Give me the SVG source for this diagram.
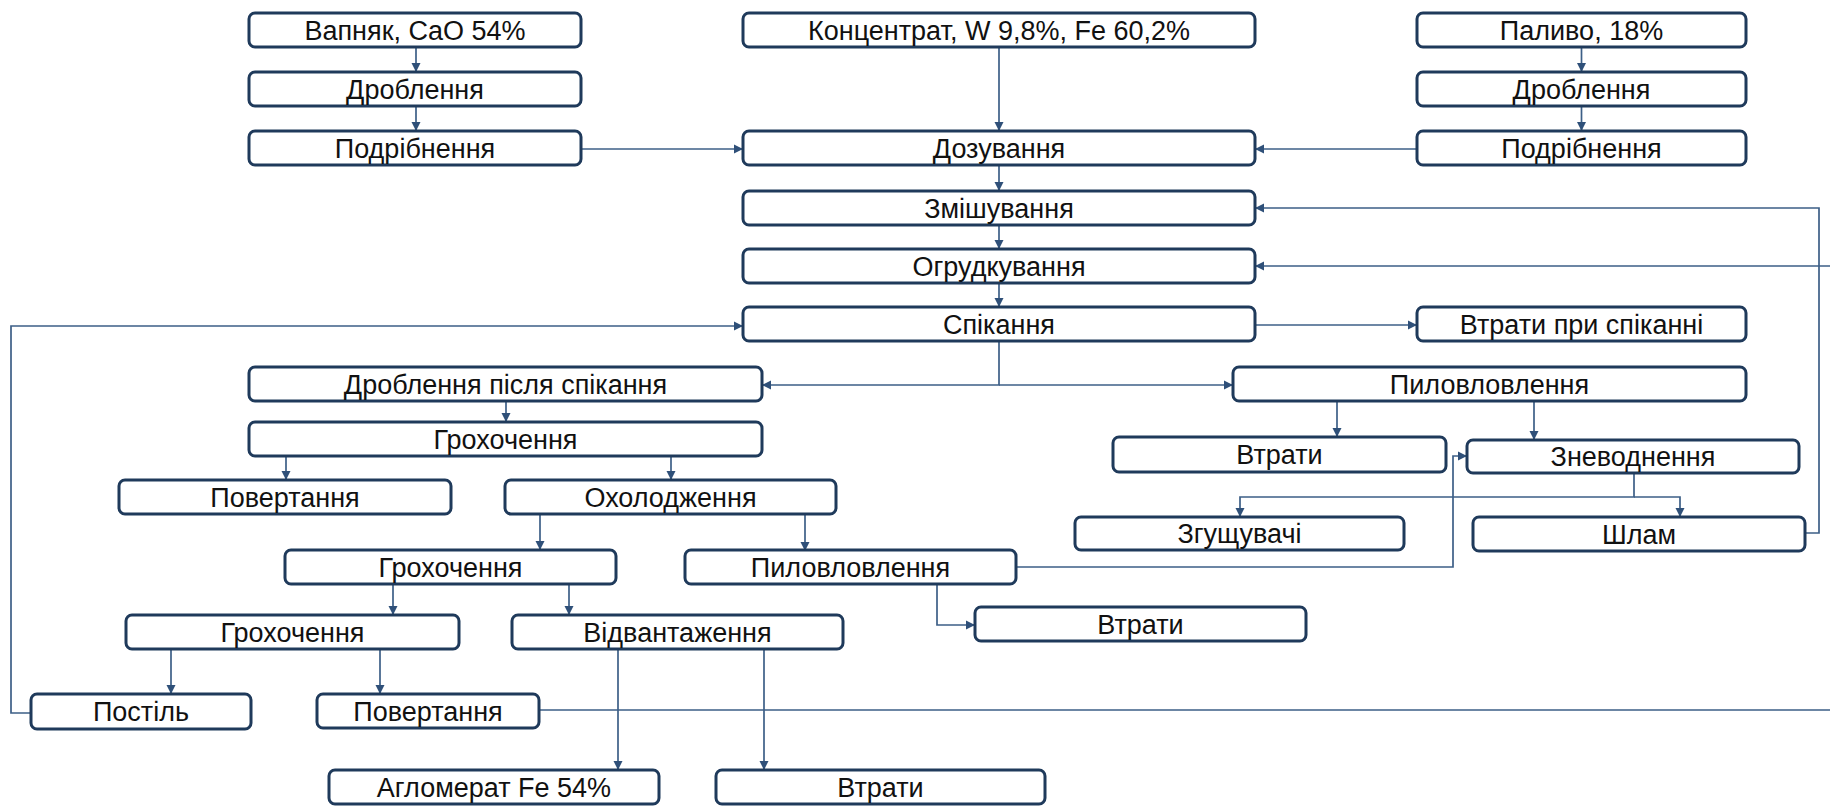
<svg xmlns="http://www.w3.org/2000/svg" width="1830" height="806" viewBox="0 0 1830 806">
<style>
.n rect{fill:#fff;stroke:#1f3a5b;stroke-width:3}
.n text{font-family:"Liberation Sans",Arial,sans-serif;font-size:27px;fill:#111;text-anchor:middle}
.c path{fill:none;stroke:#3d5f87;stroke-width:1.7}
</style>
<defs>
<marker id="ah" markerUnits="userSpaceOnUse" markerWidth="10" markerHeight="10" refX="9" refY="5" orient="auto">
<path d="M0,0.5 L9,5 L0,9.5 z" fill="#2f5079"/>
</marker>
</defs>
<rect width="1830" height="806" fill="#fff"/>
<g id="connectors" class="c">
<path marker-end="url(#ah)" d="M416,47 V72"/>
<path marker-end="url(#ah)" d="M416,106 V131"/>
<path marker-end="url(#ah)" d="M581,149 H743"/>
<path marker-end="url(#ah)" d="M999,47 V131"/>
<path marker-end="url(#ah)" d="M1581.5,47 V72"/>
<path marker-end="url(#ah)" d="M1581.5,106 V131"/>
<path marker-end="url(#ah)" d="M1417,149 H1255"/>
<path marker-end="url(#ah)" d="M999,165 V191"/>
<path marker-end="url(#ah)" d="M999,225 V249"/>
<path marker-end="url(#ah)" d="M999,283 V307"/>
<path marker-end="url(#ah)" d="M1255,325 H1417"/>
<path marker-end="url(#ah)" d="M999,341 V385 H762"/>
<path marker-end="url(#ah)" d="M999,385 H1233"/>
<path marker-end="url(#ah)" d="M506,401 V422"/>
<path marker-end="url(#ah)" d="M286,456 V480"/>
<path marker-end="url(#ah)" d="M671,456 V480"/>
<path marker-end="url(#ah)" d="M540,514 V550"/>
<path marker-end="url(#ah)" d="M805,514 V551"/>
<path marker-end="url(#ah)" d="M393,584 V615"/>
<path marker-end="url(#ah)" d="M569,584 V615"/>
<path marker-end="url(#ah)" d="M171,649 V694"/>
<path marker-end="url(#ah)" d="M380,649 V694"/>
<path marker-end="url(#ah)" d="M618,649 V770"/>
<path marker-end="url(#ah)" d="M764,649 V770"/>
<path marker-end="url(#ah)" d="M937,584 V625 H975"/>
<path marker-end="url(#ah)" d="M1016,567 H1453 V456 H1467"/>
<path marker-end="url(#ah)" d="M1337,401 V437"/>
<path marker-end="url(#ah)" d="M1534,401 V440"/>
<path marker-end="url(#ah)" d="M1634,473 V497 H1240 V517"/>
<path marker-end="url(#ah)" d="M1634,497 H1680 V517"/>
<path marker-end="url(#ah)" d="M1805,533 H1819 V208 H1255"/>
<path marker-end="url(#ah)" d="M539,710 H1836 V266 H1255"/>
<path marker-end="url(#ah)" d="M31,713 H11 V326 H743"/>
</g>
<g id="vapnyak" class="n"><rect x="249" y="13" width="332" height="34" rx="6"/><text x="415" y="40">Вапняк, CaO 54%</text></g>
<g id="droblennia1" class="n"><rect x="249" y="72" width="332" height="34" rx="6"/><text x="415" y="99">Дроблення</text></g>
<g id="podribnennia1" class="n"><rect x="249" y="131" width="332" height="34" rx="6"/><text x="415" y="158">Подрібнення</text></g>
<g id="kontsentrat" class="n"><rect x="743" y="13" width="512" height="34" rx="6"/><text x="999" y="40">Концентрат, W 9,8%, Fe 60,2%</text></g>
<g id="dozuvannia" class="n"><rect x="743" y="131" width="512" height="34" rx="6"/><text x="999" y="158">Дозування</text></g>
<g id="zmishuvannia" class="n"><rect x="743" y="191" width="512" height="34" rx="6"/><text x="999" y="218">Змішування</text></g>
<g id="ogrudkuvannia" class="n"><rect x="743" y="249" width="512" height="34" rx="6"/><text x="999" y="276">Огрудкування</text></g>
<g id="spikannia" class="n"><rect x="743" y="307" width="512" height="34" rx="6"/><text x="999" y="334">Спікання</text></g>
<g id="palyvo" class="n"><rect x="1417" y="13" width="329" height="34" rx="6"/><text x="1581.5" y="40">Паливо, 18%</text></g>
<g id="droblennia2" class="n"><rect x="1417" y="72" width="329" height="34" rx="6"/><text x="1581.5" y="99">Дроблення</text></g>
<g id="podribnennia2" class="n"><rect x="1417" y="131" width="329" height="34" rx="6"/><text x="1581.5" y="158">Подрібнення</text></g>
<g id="vtraty_spik" class="n"><rect x="1417" y="307" width="329" height="34" rx="6"/><text x="1581.5" y="334">Втрати при спіканні</text></g>
<g id="drob_pislia" class="n"><rect x="249" y="367" width="513" height="34" rx="6"/><text x="505.5" y="394">Дроблення після спікання</text></g>
<g id="hrokhochennia1" class="n"><rect x="249" y="422" width="513" height="34" rx="6"/><text x="505.5" y="449">Грохочення</text></g>
<g id="povertannia1" class="n"><rect x="119" y="480" width="332" height="34" rx="6"/><text x="285" y="507">Повертання</text></g>
<g id="okholodzhennia" class="n"><rect x="505" y="480" width="331" height="34" rx="6"/><text x="670.5" y="507">Охолодження</text></g>
<g id="hrokhochennia2" class="n"><rect x="285" y="550" width="331" height="34" rx="6"/><text x="450.5" y="577">Грохочення</text></g>
<g id="pylovlovlennia2" class="n"><rect x="685" y="550" width="331" height="34" rx="6"/><text x="850.5" y="577">Пиловловлення</text></g>
<g id="hrokhochennia3" class="n"><rect x="126" y="615" width="333" height="34" rx="6"/><text x="292.5" y="642">Грохочення</text></g>
<g id="vidvantazhennia" class="n"><rect x="512" y="615" width="331" height="34" rx="6"/><text x="677.5" y="642">Відвантаження</text></g>
<g id="vtraty_mid" class="n"><rect x="975" y="607" width="331" height="34" rx="6"/><text x="1140.5" y="634">Втрати</text></g>
<g id="postil" class="n"><rect x="31" y="694" width="220" height="35" rx="6"/><text x="141" y="721">Постіль</text></g>
<g id="povertannia2" class="n"><rect x="317" y="694" width="222" height="34" rx="6"/><text x="428" y="721">Повертання</text></g>
<g id="aglomerat" class="n"><rect x="329" y="770" width="330" height="34" rx="6"/><text x="494" y="797">Агломерат Fe 54%</text></g>
<g id="vtraty_bot" class="n"><rect x="716" y="770" width="329" height="34" rx="6"/><text x="880.5" y="797">Втрати</text></g>
<g id="pylovlovlennia1" class="n"><rect x="1233" y="367" width="513" height="34" rx="6"/><text x="1489.5" y="394">Пиловловлення</text></g>
<g id="vtraty_r" class="n"><rect x="1113" y="437" width="333" height="35" rx="6"/><text x="1279.5" y="464">Втрати</text></g>
<g id="znevodnennia" class="n"><rect x="1467" y="440" width="332" height="33" rx="6"/><text x="1633" y="466">Зневоднення</text></g>
<g id="zgushchuvachi" class="n"><rect x="1075" y="517" width="329" height="33" rx="6"/><text x="1239.5" y="543">Згущувачі</text></g>
<g id="shlam" class="n"><rect x="1473" y="517" width="332" height="34" rx="6"/><text x="1639" y="544">Шлам</text></g>
</svg>
